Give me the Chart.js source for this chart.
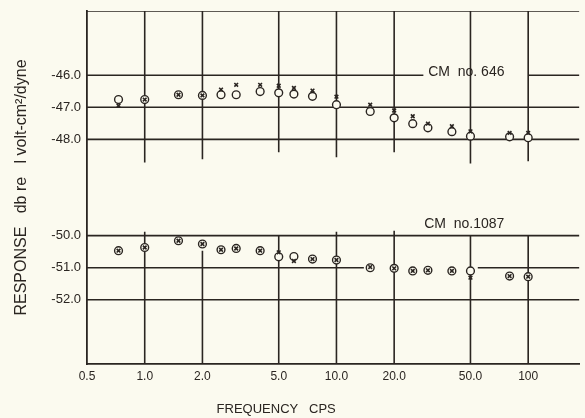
<!DOCTYPE html>
<html>
<head>
<meta charset="utf-8">
<script src="https://cdn.jsdelivr.net/npm/chart.js@4"></script>
<style>
    html, body { margin: 0; padding: 0; background: #fbfaef; overflow: hidden; }
    #wrap { width: 585px; height: 418px; }
</style>
</head>
<body>
<div id="wrap"><canvas id="response-chart"></canvas></div>
<script>
// frequency (cps) of each measured point
const freqs = [0.73, 1.0, 1.5, 2.0, 2.5, 3.0, 4.0, 5.0, 6.0, 7.5, 10, 15, 20, 25, 30, 40, 50, 80, 100];

// CM no. 646, response in db re 1 volt-cm2/dyne
const upperCircle = [-46.76, -46.76, -46.61, -46.63, -46.61, -46.61, -46.51, -46.55, -46.59, -46.66,
    -46.92, -47.13, -47.33, -47.51, -47.64, -47.76, -47.90, -47.92, -47.95];
const upperCross = [-46.95, -46.76, -46.61, -46.63, -46.45, -46.30, -46.30, -46.33, -46.40, -46.48,
    -46.67, -46.92, -47.10, -47.28, -47.51, -47.59, -47.75, -47.80, -47.80];

// CM no. 1087
const lowerCircle = [-50.47, -50.37, -50.16, -50.26, -50.44, -50.40, -50.47, -50.66, -50.65, -50.73,
    -50.76, -51.00, -51.02, -51.10, -51.08, -51.10, -51.10, -51.26, -51.28];
const lowerCross = [-50.47, -50.37, -50.16, -50.26, -50.44, -50.40, -50.47, -50.52, -50.79, -50.73,
    -50.76, -50.98, -51.02, -51.10, -51.08, -51.10, -51.31, -51.26, -51.28];

// the y axis is broken between -48 and -50: lower block sits one db lower on the paper
const lowerShift = -1;

const xTicks = [0.5, 1, 2, 5, 10, 20, 50, 100];
const xTickLabels = ['0.5', '1.0', '2.0', '5.0', '10.0', '20.0', '50.0', '100'];
const yTicks = [-46, -47, -48, -50, -51, -52];
const yTickLabels = ['-46.0', '-47.0', '-48.0', '-50.0', '-51.0', '-52.0'];

// ruled lines of the paper: [y, x from, x to] and [x, y from, y to] (plotted units)
const hRules = [
    [-44, 0.5, 185],
    [-46, 0.5, 28.4], [-46, 100, 185],
    [-47, 0.5, 185],
    [-48, 0.5, 185],
    [-51, 0.5, 185],
    [-52, 0.5, 13.9], [-52, 54.6, 185],
    [-53, 0.5, 185],
];
const vRules = [
    [1, -44, -48.72], [2, -44, -48.62], [5, -44, -48.4], [10, -44, -48.56],
    [20, -44, -48.4], [50, -44, -48.75], [100, -44, -48.68],
    [1, -50.88, -55], [2, -51.47, -55], [5, -51.0, -55], [10, -50.88, -55],
    [20, -50.85, -55], [50, -51.0, -55], [100, -51.0, -55],
];

// labels in plotted units
const notes = [
    { text: 'CM  no. 646', x: 30.1, y: -45.92 },
    { text: 'CM  no.1087', x: 28.7, y: -50.63 },
];

const ink = '#2a2521';
const paper = '#fbfaef';
const font = '"Liberation Sans", Arial, sans-serif';

function pts(ys, shift) {
    return freqs.map((f, i) => ({ x: f, y: ys[i] + shift }));
}

const datasets = [];
hRules.forEach(r => datasets.push({
    data: [{ x: r[1], y: r[0] }, { x: r[2], y: r[0] }],
    showLine: true, borderColor: ink, borderWidth: 1.6, pointRadius: 0, order: 10,
}));
vRules.forEach(r => datasets.push({
    data: [{ x: r[0], y: r[1] }, { x: r[0], y: r[2] }],
    showLine: true, borderColor: ink, borderWidth: 1.6, pointRadius: 0, order: 10,
}));

const circleStyle = {
    pointStyle: 'circle', pointRadius: 3.9, borderWidth: 1.4,
    borderColor: ink, backgroundColor: paper, order: 2,
};
const crossStyle = {
    pointStyle: 'crossRot', pointRadius: 2.6, borderWidth: 1.6,
    borderColor: ink, backgroundColor: ink, order: 1,
};
datasets.push(Object.assign({ data: pts(upperCircle, 0) }, circleStyle));
datasets.push(Object.assign({ data: pts(lowerCircle, lowerShift) }, circleStyle));
datasets.push(Object.assign({ data: pts(upperCross, 0) }, crossStyle));
datasets.push(Object.assign({ data: pts(lowerCross, lowerShift) }, crossStyle));

const notesPlugin = {
    id: 'notes',
    afterDatasetsDraw(chart) {
        const ctx = chart.ctx;
        const xs = chart.scales.x, ys = chart.scales.y;
        ctx.save();
        ctx.fillStyle = ink;
        ctx.textBaseline = 'middle';
        ctx.font = '14px ' + font;
        notes.forEach(n => {
            ctx.fillText(n.text, xs.getPixelForValue(n.x), ys.getPixelForValue(n.y));
        });
        // x axis caption, set left of centre as on the original sheet
        ctx.font = '13px ' + font;
        ctx.textAlign = 'center';
        ctx.fillText('FREQUENCY   CPS', xs.getPixelForValue(4.85), 409);
        ctx.restore();
    }
};

new Chart(document.getElementById('response-chart'), {
    type: 'scatter',
    data: { datasets: datasets },
    plugins: [notesPlugin],
    options: {
        responsive: true,
        maintainAspectRatio: false,
        animation: false,
        layout: { padding: { top: 11, right: 0, left: 0, bottom: 0 } },
        scales: {
            x: {
                type: 'logarithmic',
                min: 0.5,
                max: 185,
                afterBuildTicks: s => { s.ticks = xTicks.map(v => ({ value: v })); },
                afterFit: s => { s.height = 54; },
                grid: { display: false },
                border: { display: true, color: ink, width: 1.8 },
                ticks: {
                    autoSkip: false,
                    maxRotation: 0,
                    padding: -3,
                    color: ink,
                    font: { family: font, size: 12 },
                    callback: v => xTickLabels[xTicks.indexOf(v)],
                },
            },
            y: {
                type: 'linear',
                min: -55,
                max: -44,
                afterBuildTicks: s => {
                    s.ticks = yTicks.map(v => ({ value: v < -49 ? v + lowerShift : v }));
                },
                afterFit: s => { s.width = 87; },
                grid: { display: false },
                border: { display: true, color: ink, width: 1.8 },
                ticks: {
                    padding: -2,
                    color: ink,
                    font: { family: font, size: 13 },
                    callback: v => {
                        const real = v < -49 ? v - lowerShift : v;
                        return yTickLabels[yTicks.indexOf(real)];
                    },
                },
                title: {
                    display: true,
                    text: 'RESPONSE   db re   l volt-cm²/dyne',
                    color: ink,
                    padding: { top: 12, bottom: 0 },
                    font: { family: font, size: 16 },
                },
            },
        },
        plugins: {
            legend: { display: false },
            tooltip: { enabled: false },
        },
    },
});
</script>
</body>
</html>
